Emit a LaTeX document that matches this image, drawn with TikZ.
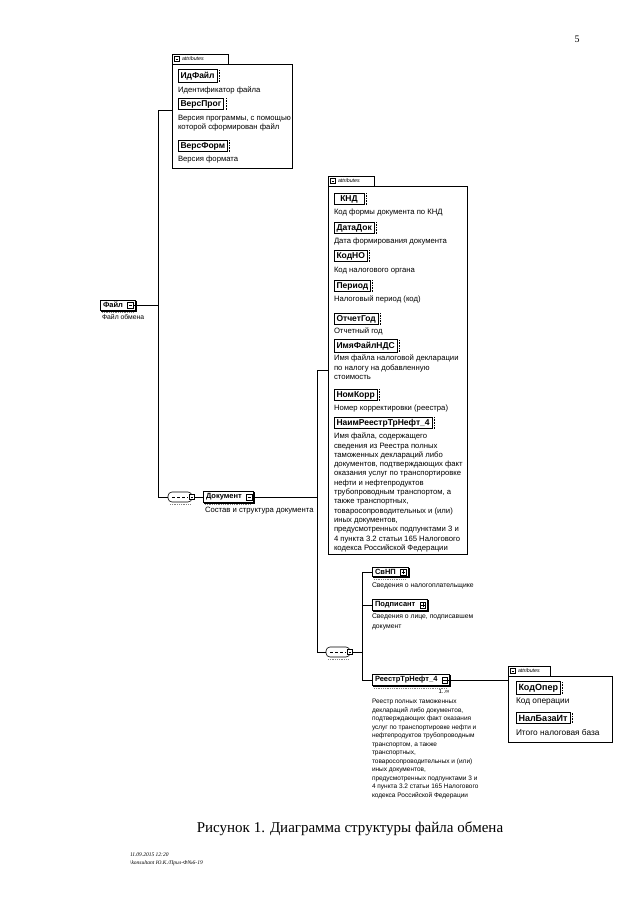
\documentclass[tikz,border=0pt]{standalone}
\usepackage{fontspec}
\setmainfont{Liberation Serif}
\setsansfont{Liberation Sans}
\usetikzlibrary{shadows}
\newcommand{\symgap}{\makebox[9pt]{}}
\begin{document}
\begin{tikzpicture}[x=1pt,y=-1pt,
  every node/.style={inner sep=0pt, outer sep=0pt},
  conn/.style={line width=0.7pt},
  elem/.style={draw, fill=white, line width=0.6pt, inner xsep=3pt, inner ysep=2pt,
    font=\sffamily\bfseries\fontsize{7.5}{8}\selectfont, anchor=west,
    copy shadow={shadow xshift=1pt, shadow yshift=-1pt}},
  attr/.style={draw, fill=white, line width=1pt, inner xsep=2.5pt, inner ysep=2pt, minimum width=30pt,
    font=\sffamily\bfseries\fontsize{8.5}{9}\selectfont, anchor=west},
  desc/.style={anchor=north west, align=left, font=\sffamily\fontsize{7.7}{9.3}\selectfont},
  sdesc/.style={anchor=north west, align=left, font=\sffamily\fontsize{6.8}{9.3}\selectfont},
  grpbox/.style={draw, line width=0.6pt, anchor=north west},
  tab/.style={draw, fill=white, line width=0.6pt, anchor=south west, minimum height=10pt,
    inner xsep=2pt, text depth=0pt, font=\sffamily\itshape\fontsize{5.3}{6}\selectfont},
  exminus/.style={draw, fill=white, line width=0.5pt, minimum size=5.5pt,
    path picture={\draw[line width=0.5pt] ([xshift=1.1pt]path picture bounding box.west) -- ([xshift=-1.1pt]path picture bounding box.east);}},
  explus/.style={draw, fill=white, line width=0.5pt, minimum size=5.5pt,
    path picture={\draw[line width=0.5pt] ([xshift=1.1pt]path picture bounding box.west) -- ([xshift=-1.1pt]path picture bounding box.east)
      ([yshift=-1.1pt]path picture bounding box.north) -- ([yshift=1.1pt]path picture bounding box.south);}},
  seqbox/.style={draw, fill=white, line width=0.6pt, rounded corners=4pt, minimum width=24pt, minimum height=10pt,
    path picture={\draw[densely dashed, line width=0.6pt] ([xshift=4pt]path picture bounding box.west) -- ([xshift=-4pt]path picture bounding box.east);}},
  shadowline/.style={densely dotted, line width=0.8pt, gray}
]
\useasboundingbox (0,0) rectangle (640,905);

% page number
\node[font=\rmfamily\fontsize{10}{12}\selectfont] (pnum) at (577,39) {5};

% ---------- top attributes group ----------
\node[grpbox, minimum width=120pt, minimum height=104pt] (topbox) at (172,64) {};
\node[tab, text width=52pt] (toptab) at (172,64) {\hspace*{8pt}attributes};
\node[exminus, minimum size=5pt] (toptabx) at ([xshift=5pt]toptab.west) {};

\node[attr] (idf) at (178,76) {ИдФайл};
\node[desc] (idfd) at (178,87) {Идентификатор файла};
\node[attr] (verp) at (178,104) {ВерсПрог};
\node[desc] (verpd) at (178,115) {Версия программы, с помощью\\которой сформирован файл};
\node[attr] (verf) at (178,146) {ВерсФорм};
\node[desc] (verfd) at (178,156) {Версия формата};

% ---------- root element ----------
\node[elem] (file) at (100,305) {Файл\symgap};
\node[exminus] (fileX) at ([xshift=-4.5pt]file.east) {};
\node[sdesc] (filed) at (102,314) {Файл обмена};

% ---------- sequence 1 and document ----------
\node[seqbox] (seq1) at (180,497) {};
\node[exminus, minimum size=5pt] (seq1X) at (seq1.east) {};
\node[elem] (doc) at (203,497) {Документ\symgap};
\node[exminus] (docX) at ([xshift=-4.5pt]doc.east) {};
\node[desc] (docd) at (205,507) {Состав и структура документа};

% ---------- middle attributes group ----------
\node[grpbox, minimum width=139pt, minimum height=368pt] (midbox) at (328,186) {};
\node[tab, text width=42pt] (midtab) at (328,186) {\hspace*{8pt}attributes};
\node[exminus, minimum size=5pt] (midtabx) at ([xshift=5pt]midtab.west) {};

\node[attr] (knd) at (334,199) {КНД};
\node[desc] (kndd) at (334,209) {Код формы документа по КНД};
\node[attr] (datadok) at (334,228) {ДатаДок};
\node[desc] (datadokd) at (334,238) {Дата формирования документа};
\node[attr] (kodno) at (334,256) {КодНО};
\node[desc] (kodnod) at (334,267) {Код налогового органа};
\node[attr] (period) at (334,286) {Период};
\node[desc] (periodd) at (334,296) {Налоговый период (код)};
\node[attr] (otchgod) at (334,319) {ОтчетГод};
\node[desc] (otchgodd) at (334,328) {Отчетный год};
\node[attr] (imyafnds) at (334,346) {ИмяФайлНДС};
\node[desc] (imyafndsd) at (334,355) {Имя файла налоговой декларации\\по налогу на добавленную\\стоимость};
\node[attr] (nomkorr) at (334,395) {НомКорр};
\node[desc] (nomkorrd) at (334,405) {Номер корректировки (реестра)};
\node[attr] (naimr) at (334,423) {НаимРеестрТрНефт\_4};
\node[desc] (naimrd) at (334,433) {Имя файла, содержащего\\сведения из Реестра полных\\таможенных деклараций либо\\документов, подтверждающих факт\\оказания услуг по транспортировке\\нефти и нефтепродуктов\\трубопроводным транспортом, а\\также транспортных,\\товаросопроводительных и (или)\\иных документов,\\предусмотренных подпунктами 3 и\\4 пункта 3.2 статьи 165 Налогового\\кодекса Российской Федерации};

% ---------- sequence 2 and children ----------
\node[seqbox] (seq2) at (338,652) {};
\node[exminus, minimum size=5pt] (seq2X) at (seq2.east) {};

\node[elem] (svnp) at (372,572) {СвНП\symgap};
\node[explus] (svnpX) at ([xshift=-4.5pt]svnp.east) {};
\node[sdesc] (svnpd) at (372,583) {Сведения о налогоплательщике};
\node[elem] (podp) at (372,605) {Подписант\symgap};
\node[explus] (podpX) at ([xshift=-4.5pt]podp.east) {};
\node[sdesc] (podpd) at (372,614) {Сведения о лице, подписавшем\\документ};
\node[elem] (reestr) at (372,680) {РеестрТрНефт\_4\symgap};
\node[exminus] (reestrX) at ([xshift=-4.5pt]reestr.east) {};
\node[font=\sffamily\fontsize{6}{7}\selectfont] (mult) at (444,691) {1..∞};
\node[sdesc, font=\sffamily\fontsize{6.5}{8.55}\selectfont] (reestrd) at (372,699) {Реестр полных таможенных\\деклараций либо документов,\\подтверждающих факт оказания\\услуг по транспортировке нефти и\\нефтепродуктов трубопроводным\\транспортом, а также\\транспортных,\\товаросопроводительных и (или)\\иных документов,\\предусмотренных подпунктами 3 и\\4 пункта 3.2 статьи 165 Налогового\\кодекса Российской Федерации};

% ---------- right attributes group ----------
\node[grpbox, minimum width=104pt, minimum height=66pt] (rbox) at (508,676) {};
\node[tab, text width=38pt] (rtab) at (508,676) {\hspace*{8pt}attributes};
\node[exminus, minimum size=5pt] (rtabx) at ([xshift=5pt]rtab.west) {};
\node[attr, font=\sffamily\bfseries\fontsize{9}{10}\selectfont] (kodoper) at (516,688) {КодОпер};
\node[desc, font=\sffamily\fontsize{8.3}{9.3}\selectfont] (kodoperd) at (516,698) {Код операции};
\node[attr, font=\sffamily\bfseries\fontsize{9}{10}\selectfont] (nalbaz) at (516,718) {НалБазаИт};
\node[desc, font=\sffamily\fontsize{8.3}{9.3}\selectfont] (nalbazd) at (516,729) {Итого налоговая база};

% dotted right edges of attribute boxes
\foreach \a in {idf,verp,verf,knd,datadok,kodno,period,otchgod,imyafnds,nomkorr,naimr,kodoper,nalbaz}
  \draw[densely dotted, line width=0.6pt] ([xshift=2pt]\a.north east) -- ([xshift=2pt]\a.south east);

% hatched shadows under elements with content
\foreach \e in {file,doc,svnp,reestr,seq1,seq2}
  \draw[shadowline] ([xshift=2pt,yshift=-2.5pt]\e.south west) -- ([xshift=-2pt,yshift=-2.5pt]\e.south east);

% ---------- connectors ----------
\coordinate (topin) at (172,110);
\coordinate (v1top) at (158,110);
\coordinate (v1bot) at (158,497);
\draw[conn] (topin) -- (v1top) -- (v1bot) -- (seq1.west);
\draw[conn] (fileX.east) -- (fileX.east -| v1top);
\draw[conn] (seq1X.east) -- (doc.west);

\coordinate (midin) at (328,370);
\coordinate (v2top) at (317,370);
\coordinate (v2bot) at (317,652);
\draw[conn] (midin) -- (v2top) -- (v2bot) -- (seq2.west);
\draw[conn] (docX.east) -- (docX.east -| v2top);

\coordinate (v3top) at (362,572);
\coordinate (v3bot) at (362,680);
\draw[conn] (seq2X.east) -- (seq2X.east -| v3top);
\draw[conn] (svnp.west) -- (v3top) -- (v3bot) -- (reestr.west);
\draw[conn] (podp.west) -- (podp.west -| v3top);
\draw[conn] (reestrX.east) -- (reestrX.east -| rbox.west);

% ---------- caption and footer ----------
\node[font=\rmfamily\fontsize{15}{18}\selectfont] (cap) at (350,829) {Рисунок 1. Диаграмма структуры файла обмена};
\node[anchor=west, align=left, font=\rmfamily\itshape\fontsize{5.5}{8}\selectfont] (foot) at (130,859) {11.09.2015 12:20\\\textbackslash konsultant Ю.К./Прил-Ф№6-19};
\end{tikzpicture}
\end{document}
